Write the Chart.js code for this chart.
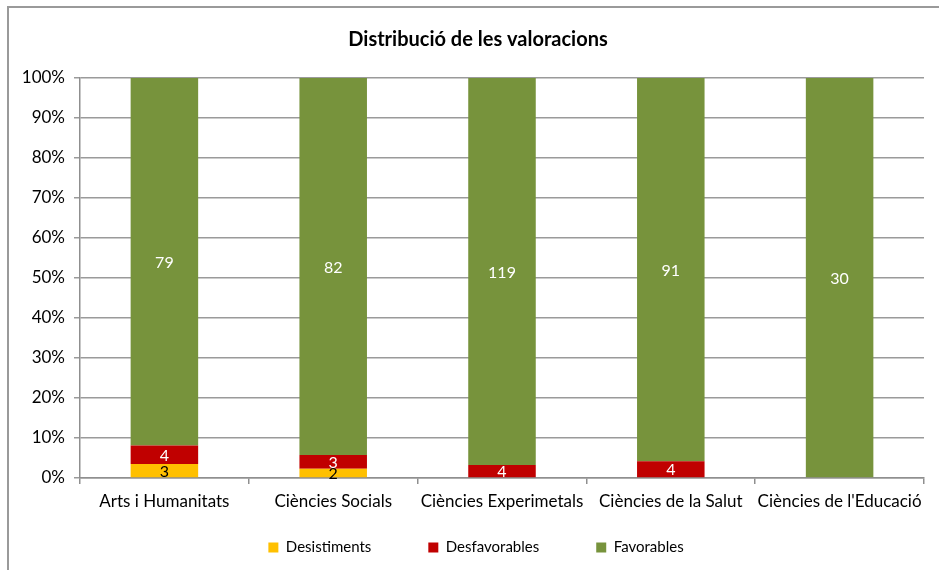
<!DOCTYPE html>
<html>
<head>
<meta charset="utf-8">
<script src="https://cdn.jsdelivr.net/npm/chart.js@4.4.1/dist/chart.umd.min.js"></script>
<style>
  html, body { margin: 0; padding: 0; background: #fff; overflow: hidden; }
  #wrap { position: relative; width: 939px; height: 570px; }
  #frame { position: absolute; left: 7px; top: 6px; width: 2000px; height: 2000px; border: 2px solid #9a9a9a; pointer-events: none; box-sizing: border-box; }
  canvas { position: absolute; left: 0; top: 0; }
</style>
</head>
<body>
<div id="wrap">
  <canvas id="c" width="939" height="570"></canvas>
  <div id="frame"></div>
</div>
<script>
const chartTitle = "Distribució de les valoracions";
const categories = ["Arts i Humanitats", "Ciències Socials", "Ciències Experimetals", "Ciències de la Salut", "Ciències de l'Educació"];
const seriesNames = ["Desistiments", "Desfavorables", "Favorables"];
const desistiments = [3, 2, 0, 0, 0];
const desfavorables = [4, 3, 4, 4, 0];
const favorables = [79, 82, 119, 91, 30];
const seriesColors = ["#FFC000", "#C00000", "#77933C"];
const labelColors = ["#000000", "#FFFFFF", "#FFFFFF"];
const yTickValues = [0, 10, 20, 30, 40, 50, 60, 70, 80, 90, 100];

const counts = [desistiments, desfavorables, favorables];
const totals = categories.map((_, i) => counts.reduce((s, arr) => s + arr[i], 0));
const pct = arr => arr.map((v, i) => v / totals[i] * 100);

const FONT = "Lato, 'Open Sans', sans-serif";

const dataLabels = {
  id: 'dataLabels',
  afterDatasetsDraw(chart) {
    const ctx = chart.ctx;
    ctx.save();
    ctx.font = "16px " + FONT;
    ctx.textAlign = 'center';
    ctx.textBaseline = 'middle';
    chart.data.datasets.forEach((ds, di) => {
      const meta = chart.getDatasetMeta(di);
      meta.data.forEach((el, i) => {
        const v = counts[di][i];
        if (!v) return;
        const p = el.getProps(['x', 'y', 'base'], true);
        ctx.fillStyle = labelColors[di];
        ctx.fillText(String(v), p.x, (p.y + p.base) / 2 + 1);
      });
    });
    ctx.restore();
  }
};

// Keep the legend compact vertically while spacing its items widely,
// and centre title and legend a little to the right, as in the original.
const layoutTweaks = {
  id: 'layoutTweaks',
  beforeLayout(chart) {
    const lg = chart.legend;
    if (lg && !lg._patched) {
      const origFit = lg.fit;
      lg.fit = function () { origFit.call(this); this.height = 34; };
      lg._patched = true;
    }
  },
  afterLayout(chart) {
    const lg = chart.legend;
    if (lg) {
      const pad = lg.options.labels.padding;
      lg.top = 540 - pad;
      lg.bottom = chart.height;
      lg.height = lg.bottom - lg.top;
      lg.left += 28;
      lg.width = lg.right - lg.left;
    }
    if (chart.titleBlock) {
      chart.titleBlock.left += 32;
    }
  }
};

new Chart(document.getElementById('c'), {
  type: 'bar',
  data: {
    labels: categories,
    datasets: seriesNames.map((n, i) => ({
      label: n,
      data: pct(counts[i]),
      backgroundColor: seriesColors[i],
      borderWidth: 0,
      barPercentage: 0.4,
      categoryPercentage: 1.0
    }))
  },
  options: {
    responsive: false,
    animation: false,
    layout: { padding: { left: 0, right: 15, top: 0, bottom: 6 } },
    plugins: {
      title: {
        display: true,
        text: chartTitle,
        color: '#000',
        font: { family: FONT, size: 20, weight: 'bold' },
        padding: { top: 28, bottom: 26 }
      },
      legend: {
        position: 'bottom',
        labels: {
          color: '#000',
          font: { family: FONT, size: 15 },
          boxWidth: 10,
          boxHeight: 10,
          padding: 57
        }
      },
      tooltip: { enabled: false }
    },
    scales: {
      x: {
        stacked: true,
        grid: { display: true, drawOnChartArea: false, drawTicks: true, tickLength: 6, color: '#8f8f8f', lineWidth: 1.5, offset: true },
        border: { color: '#8f8f8f', width: 1.5 },
        ticks: { color: '#000', font: { family: FONT, size: 17 }, padding: 7, maxRotation: 0, autoSkip: false },
        afterFit(s) { s.height = 52; }
      },
      y: {
        stacked: true,
        min: 0,
        max: 100,
        afterBuildTicks(s) { s.ticks = yTickValues.map(v => ({ value: v })); },
        grid: { color: '#9a9a9a', lineWidth: 1.5, tickLength: 6 },
        border: { color: '#8f8f8f', width: 1.5 },
        ticks: { color: '#000', font: { family: FONT, size: 17 }, padding: 9, callback: v => v + '%' },
        afterFit(s) { s.width = 80; }
      }
    }
  },
  plugins: [dataLabels, layoutTweaks]
});
</script>
</body>
</html>
